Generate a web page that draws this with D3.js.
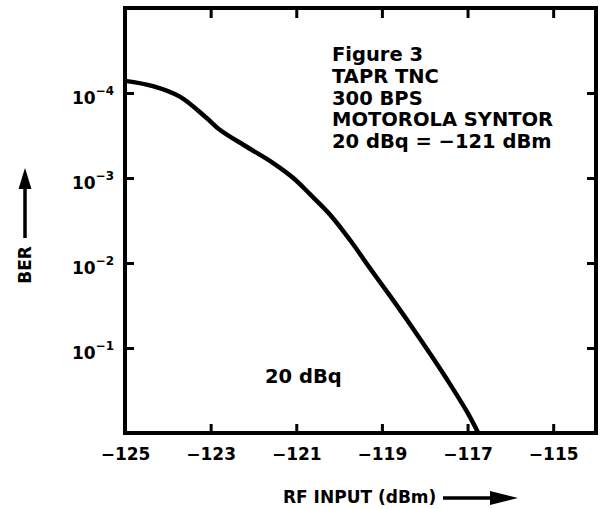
<!DOCTYPE html>
<html>
<head>
<meta charset="utf-8">
<script src="https://cdn.jsdelivr.net/npm/d3@7"></script>
<style>
  html, body { margin: 0; padding: 0; background: #fff; }
  svg { display: block; }
  text { font-family: "DejaVu Sans", sans-serif; font-weight: bold; fill: #000; }
</style>
</head>
<body>
<svg id="chart" width="600" height="509"></svg>
<script>
// ---- data ----
const rfInput = [-125.0, -124.35, -123.71, -123.08, -122.78, -122.15, -121.54, -121.07, -120.68,
                 -120.21, -119.74, -119.28, -118.81, -118.34, -117.87, -117.41, -117.01, -116.75];
const berValues = [7.2e-5, 8.3e-5, 1.11e-4, 2.0e-4, 2.72e-4, 4.32e-4, 6.67e-4, 1.0e-3, 1.55e-3,
                   2.7e-3, 5.4e-3, 1.15e-2, 2.44e-2, 5.29e-2, 0.118, 0.266, 0.566, 1.0];
const xTickValues = [-125, -123, -121, -119, -117, -115];
const yTickValues = [1e-4, 1e-3, 1e-2, 1e-1];
const yTickExponents = ["\u22124", "\u22123", "\u22122", "\u22121"];
const noteLines = ["Figure 3", "TAPR TNC", "300 BPS", "MOTOROLA SYNTOR", "20 dBq = \u2212121 dBm"];
const curveLabel = "20 dBq";
const xTitle = "RF INPUT (dBm)";
const yTitle = "BER";

// ---- layout ----
const L = 125, R = 596, T = 8, B = 433;
const svg = d3.select("#chart");
const x = d3.scaleLinear().domain([-125, -114]).range([L, R]);
const y = d3.scaleLog().domain([1e-5, 1]).range([T, B]);

// axes (inward ticks)
const fmtX = d => "\u2212" + Math.abs(d);
const gB = svg.append("g").attr("transform", `translate(0,${B})`)
  .call(d3.axisBottom(x).tickValues(xTickValues).tickFormat(fmtX).tickSizeInner(-9).tickSizeOuter(0).tickPadding(15));
const gT = svg.append("g").attr("transform", `translate(0,${T})`)
  .call(d3.axisTop(x).tickValues(xTickValues).tickFormat("").tickSizeInner(-10).tickSizeOuter(0));
const gL = svg.append("g").attr("transform", `translate(${L},0)`)
  .call(d3.axisLeft(y).tickValues(yTickValues).tickFormat("").tickSizeInner(-9).tickSizeOuter(0));
const gR = svg.append("g").attr("transform", `translate(${R},0)`)
  .call(d3.axisRight(y).tickValues(yTickValues).tickFormat("").tickSizeInner(-9).tickSizeOuter(0));

[gB, gT, gL, gR].forEach(g => {
  g.select(".domain").remove();
  g.selectAll(".tick line").attr("stroke", "#000").attr("stroke-width", 3);
});
gB.selectAll(".tick text").attr("font-size", 17).attr("font-family", "DejaVu Sans").attr("font-weight", "bold").attr("fill", "#000");

// y tick labels with superscripts
gL.selectAll(".tick").each(function(d, i) {
  const t = d3.select(this).append("text")
    .attr("x", -11).attr("y", 10).attr("text-anchor", "end")
    .attr("font-size", 17).attr("font-family", "DejaVu Sans").attr("font-weight", "bold").attr("fill", "#000");
  t.append("tspan").text("10");
  t.append("tspan").attr("font-size", 12).attr("dy", -9).text(yTickExponents[i]);
});

// frame
svg.append("rect").attr("x", L).attr("y", T).attr("width", R - L).attr("height", B - T)
  .attr("fill", "none").attr("stroke", "#000").attr("stroke-width", 4);

// curve
const pts = rfInput.map((v, i) => [v, berValues[i]]);
svg.append("path").datum(pts)
  .attr("fill", "none").attr("stroke", "#000").attr("stroke-width", 4.5)
  .attr("stroke-linecap", "butt").attr("stroke-linejoin", "round")
  .attr("d", d3.line().x(d => x(d[0])).y(d => y(d[1])).curve(d3.curveCatmullRom.alpha(0.5)));

// annotation
const note = svg.append("text").attr("font-size", 19.5);
noteLines.forEach((s, i) => {
  note.append("tspan").attr("x", 332).attr("y", 61 + i * 21.8).text(s);
});
svg.append("text").attr("x", 265).attr("y", 383).attr("font-size", 19.5).text(curveLabel);

// axis titles
svg.append("text").attr("transform", "translate(31,265) rotate(-90)")
  .attr("text-anchor", "middle").attr("font-size", 17).text(yTitle);
svg.append("text").attr("x", 283).attr("y", 503).attr("font-size", 17).text(xTitle);

// arrows
svg.append("line").attr("x1", 25).attr("y1", 238).attr("x2", 25).attr("y2", 185)
  .attr("stroke", "#000").attr("stroke-width", 3.5);
svg.append("path").attr("d", "M25,168 L18.5,189 L31.5,189 Z").attr("fill", "#000");
svg.append("line").attr("x1", 443).attr("y1", 498).attr("x2", 495).attr("y2", 498)
  .attr("stroke", "#000").attr("stroke-width", 3.5);
svg.append("path").attr("d", "M518,498 L490,491 L490,505 Z").attr("fill", "#000");
</script>
</body>
</html>
